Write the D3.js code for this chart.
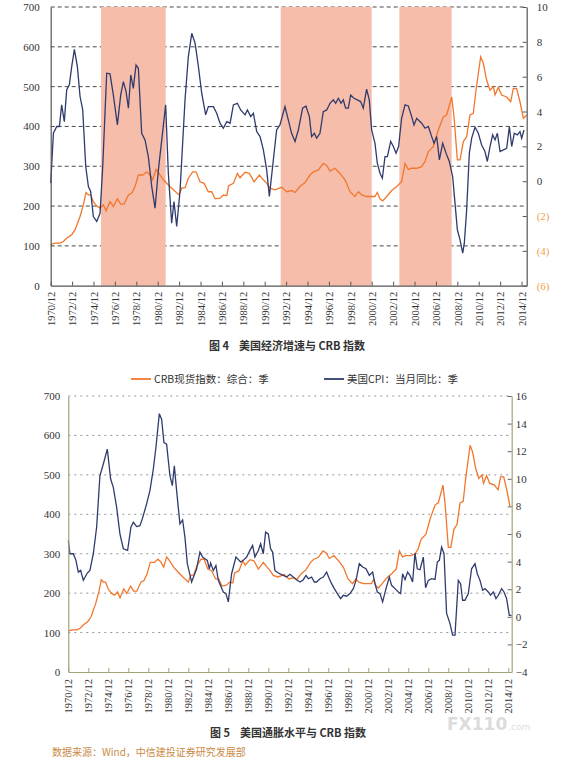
<!DOCTYPE html>
<html>
<head>
<meta charset="utf-8">
<script src="https://cdn.jsdelivr.net/npm/d3@7"></script>
<style>
  body { margin: 0; background: #fff; }
  svg { display: block; }
  .tick text { font-family: "Liberation Serif", "DejaVu Serif", serif; }
</style>
</head>
<body>
<svg id="chart" width="562" height="763"></svg>
<script>
// x tick labels, every two years
const yearTicks = ['1970/12', '1972/12', '1974/12', '1976/12', '1978/12', '1980/12', '1982/12', '1984/12',
    '1986/12', '1988/12', '1990/12', '1992/12', '1994/12', '1996/12', '1998/12', '2000/12', '2002/12',
    '2004/12', '2006/12', '2008/12', '2010/12', '2012/12', '2014/12'];

// CRB spot index (composite), time in decimal years
const crbT = [1970.92, 1971.32, 1971.79, 1972.10, 1972.41, 1972.88, 1973.19, 1973.66, 1973.97, 1974.22,
    1974.44, 1974.65, 1974.90, 1975.22, 1975.53, 1975.84, 1976.09, 1976.46, 1976.77, 1977.15, 1977.46,
    1977.77, 1978.18, 1978.49, 1978.80, 1979.11, 1979.52, 1979.89, 1980.20, 1980.45, 1980.76, 1981.07,
    1981.45, 1981.91, 1982.38, 1982.91, 1983.16, 1983.47, 1983.78, 1984.19, 1984.50, 1984.87, 1985.25,
    1985.65, 1985.96, 1986.28, 1986.74, 1987.05, 1987.37, 1987.55, 1987.99, 1988.36, 1988.61, 1989.08,
    1989.48, 1989.92, 1990.42, 1990.79, 1991.10, 1991.41, 1991.88, 1992.50, 1992.97, 1993.43, 1993.75,
    1994.21, 1994.68, 1995.15, 1995.46, 1995.93, 1996.39, 1996.71, 1997.02, 1997.48, 1997.95, 1998.42,
    1998.89, 1999.35, 1999.67, 1999.98, 2000.44, 2000.91, 2001.22, 2001.44, 2001.69, 2001.94, 2002.31,
    2002.78, 2003.25, 2003.71, 2004.03, 2004.34, 2004.65, 2005.12, 2005.58, 2005.90, 2006.21, 2006.67,
    2007.14, 2007.61, 2007.92, 2008.39, 2008.61, 2008.92, 2009.17, 2009.48, 2009.79, 2010.10, 2010.41,
    2010.66, 2011.10, 2011.35, 2011.66, 2011.97, 2012.28, 2012.44, 2012.75, 2013.06, 2013.53, 2013.90,
    2014.15, 2014.46, 2014.77, 2015.09, 2015.40];
const crbV = [104, 107, 107, 111, 119, 128, 140, 174, 203, 234,
    228, 228, 211, 200, 195, 203, 188, 211, 199, 218, 205,
    205, 228, 232, 249, 278, 278, 286, 278, 266, 292, 281,
    266, 253, 241, 228, 245, 246, 270, 286, 286, 261, 257,
    236, 236, 218, 220, 228, 226, 251, 257, 282, 271, 285,
    282, 261, 278, 266, 257, 245, 241, 247, 236, 239, 234,
    249, 259, 278, 286, 291, 307, 302, 288, 295, 282, 266,
    236, 224, 236, 228, 224, 224, 224, 234, 218, 213, 224,
    239, 249, 261, 307, 292, 295, 295, 299, 312, 337, 349,
    391, 424, 429, 474, 424, 316, 316, 362, 374, 429, 433,
    491, 575, 558, 516, 491, 500, 479, 498, 479, 474, 462,
    495, 495, 462, 420, 429];

// US real GDP growth, y/y %
const gdpT = [1970.92, 1971.17, 1971.48, 1971.73, 1971.94, 1972.19, 1972.41, 1972.66, 1972.88, 1973.13,
    1973.41, 1973.66, 1973.91, 1974.19, 1974.44, 1974.65, 1974.90, 1975.22, 1975.53, 1975.78, 1976.15,
    1976.46, 1976.77, 1977.15, 1977.46, 1977.71, 1977.96, 1978.18, 1978.40, 1978.64, 1978.89, 1979.11,
    1979.42, 1979.73, 1980.04, 1980.36, 1980.67, 1980.98, 1981.66, 1981.91, 1982.22, 1982.44, 1982.69,
    1983.00, 1983.47, 1983.78, 1984.10, 1984.41, 1984.72, 1985.03, 1985.40, 1985.65, 1986.12, 1986.43,
    1986.74, 1987.05, 1987.37, 1987.68, 1987.99, 1988.36, 1988.67, 1989.08, 1989.30, 1989.61, 1989.86,
    1990.17, 1990.48, 1990.79, 1991.10, 1991.35, 1992.03, 1992.34, 1992.81, 1993.12, 1993.43, 1993.75,
    1994.06, 1994.46, 1994.77, 1995.09, 1995.30, 1995.55, 1995.77, 1996.08, 1996.39, 1996.71, 1997.02,
    1997.33, 1997.55, 1997.80, 1998.05, 1998.26, 1998.48, 1998.73, 1998.95, 1999.26, 1999.57, 1999.88,
    2000.13, 2000.44, 2000.69, 2000.91, 2001.22, 2001.44, 2001.69, 2001.91, 2002.16, 2002.38, 2002.69,
    2002.94, 2003.19, 2003.43, 2003.71, 2004.03, 2004.34, 2004.65, 2004.87, 2005.12, 2005.58, 2005.90,
    2006.21, 2006.52, 2006.74, 2006.99, 2007.24, 2007.55, 2007.86, 2008.17, 2008.48, 2008.70, 2008.92,
    2009.17, 2009.42, 2009.57, 2009.79, 2010.04, 2010.26, 2010.57, 2010.88, 2011.19, 2011.50, 2011.72,
    2011.97, 2012.22, 2012.44, 2012.66, 2012.91, 2013.22, 2013.53, 2013.78, 2014.00, 2014.24, 2014.52,
    2014.77, 2014.93, 2015.15];
const gdpV = [-0.11, 2.75, 3.14, 3.14, 4.38, 3.42, 5.24, 5.53, 6.58, 7.57,
    6.58, 4.86, 4.09, 0.84, -0.31, -0.59, -2.03, -2.31, -1.84, 0.84, 6.20,
    6.16, 4.95, 3.23, 4.95, 5.72, 5.14, 4.19, 6.10, 5.33, 6.67, 6.48,
    2.75, 2.37, 1.41, -0.31, -1.55, 0.65, 4.38, 0.46, -2.41, -1.17, -2.60,
    -0.59, 4.67, 7.15, 8.49, 7.92, 6.58, 5.05, 3.81, 4.28, 4.28, 3.90,
    3.33, 3.04, 3.42, 3.33, 4.38, 4.47, 4.09, 3.81, 4.09, 3.71, 3.90,
    2.85, 2.56, 1.80, 0.65, -0.88, 2.94, 3.23, 4.28, 3.52, 2.75, 2.28,
    2.94, 4.19, 4.32, 3.71, 2.56, 2.75, 2.47, 2.75, 3.99, 4.09, 4.47,
    4.67, 4.47, 4.76, 4.47, 4.67, 4.19, 4.19, 4.95, 4.76, 4.67, 4.57,
    4.19, 5.28, 4.67, 2.94, 2.18, 1.03, 0.46, 0.17, 1.41, 1.41, 2.28,
    1.99, 1.61, 1.99, 3.61, 4.38, 4.32, 3.71, 3.23, 3.61, 3.33, 3.04,
    3.14, 2.56, 2.18, 2.56, 1.22, 2.18, 1.61, 1.13, 0.27, -1.26, -2.79,
    -3.37, -4.13, -3.56, -1.64, 1.61, 2.47, 3.10, 2.75, 2.08, 1.70, 1.13,
    1.99, 2.66, 2.37, 2.75, 1.70, 1.80, 1.89, 3.14, 1.99, 2.75, 2.66,
    2.85, 2.47, 2.94];

// US CPI, y/y %
const cpiT = [1970.92, 1971.08, 1971.42, 1971.68, 1971.92, 1972.15, 1972.42, 1972.82, 1973.08, 1973.42,
    1973.75, 1974.08, 1974.42, 1974.82, 1975.15, 1975.42, 1975.75, 1976.08, 1976.42, 1976.85, 1977.18,
    1977.42, 1977.75, 1978.08, 1978.35, 1978.75, 1979.08, 1979.42, 1979.68, 1980.02, 1980.25, 1980.48,
    1980.75, 1981.08, 1981.32, 1981.52, 1981.75, 1982.08, 1982.35, 1982.58, 1982.82, 1983.25, 1983.75,
    1984.08, 1984.35, 1984.58, 1984.82, 1985.02, 1985.15, 1985.42, 1985.68, 1985.92, 1986.42, 1986.68,
    1986.92, 1987.25, 1987.68, 1988.15, 1988.42, 1988.75, 1989.08, 1989.35, 1989.58, 1989.92, 1990.15,
    1990.42, 1990.65, 1990.92, 1991.15, 1991.35, 1991.58, 1991.92, 1992.42, 1992.75, 1993.09, 1993.42,
    1993.75, 1994.09, 1994.42, 1994.69, 1994.92, 1995.25, 1995.52, 1995.75, 1996.09, 1996.42, 1996.75,
    1997.02, 1997.25, 1997.52, 1997.82, 1998.15, 1998.42, 1998.75, 1999.09, 1999.42, 1999.69, 2000.02,
    2000.35, 2000.69, 2001.02, 2001.35, 2001.59, 2001.82, 2002.09, 2002.35, 2002.69, 2003.02, 2003.25,
    2003.59, 2003.92, 2004.15, 2004.35, 2004.59, 2004.85, 2005.09, 2005.35, 2005.59, 2005.82, 2006.09,
    2006.42, 2006.65, 2006.92, 2007.25, 2007.59, 2007.82, 2008.02, 2008.25, 2008.49, 2008.75, 2009.09,
    2009.35, 2009.59, 2009.92, 2010.15, 2010.35, 2010.59, 2010.92, 2011.25, 2011.59, 2011.82, 2012.09,
    2012.35, 2012.59, 2012.92, 2013.15, 2013.42, 2013.69, 2013.92, 2014.25, 2014.49, 2014.75, 2015.02,
    2015.25];
const cpiV = [5.53, 4.57, 4.57, 4.09, 3.24, 3.36, 2.64, 3.17, 3.36, 4.57,
    6.49, 10.22, 11.07, 12.15, 9.98, 9.38, 7.94, 6.01, 4.93, 4.81, 6.49,
    6.85, 6.54, 6.60, 7.17, 8.18, 9.14, 10.71, 12.27, 14.72, 14.32, 12.63,
    12.51, 10.22, 9.50, 10.94, 9.14, 6.73, 7.02, 5.77, 3.85, 2.52, 3.48,
    4.69, 4.33, 4.21, 4.09, 3.48, 3.89, 3.36, 3.72, 2.64, 1.80, 1.68,
    1.08, 3.12, 4.33, 3.97, 4.09, 4.33, 4.81, 5.17, 4.33, 4.81, 5.29,
    4.57, 6.13, 6.01, 4.93, 4.69, 3.36, 3.17, 3.00, 2.88, 3.08, 2.88,
    2.69, 2.52, 2.69, 3.00, 2.76, 2.88, 2.52, 2.52, 2.76, 2.88, 3.24,
    2.76, 2.40, 2.04, 1.68, 1.32, 1.56, 1.49, 1.68, 2.04, 2.64, 3.85,
    3.61, 3.48, 3.00, 3.24, 2.40, 1.80, 1.68, 1.08, 2.04, 2.88, 2.28,
    2.04, 1.80, 1.68, 3.12, 2.69, 3.24, 3.00, 2.52, 4.62, 3.48, 3.41,
    4.33, 2.11, 2.64, 2.76, 2.71, 3.97, 4.09, 5.05, 4.57, 0.24, -0.49,
    -1.33, -1.33, 2.64, 2.40, 1.20, 1.20, 1.68, 3.48, 3.85, 3.12, 2.64,
    1.92, 2.04, 1.80, 1.56, 1.80, 1.32, 1.56, 2.04, 1.80, 1.32, 0.11,
    0.11];

// shaded periods in figure 4
const bandStart = [1975.62, 1992.41, 2003.50];
const bandEnd = [1981.66, 2000.92, 2008.39];

const leftTicks = [0, 100, 200, 300, 400, 500, 600, 700];
const gdpTicks = [-6, -4, -2, 0, 2, 4, 6, 8, 10];
const cpiTicks = [-4, -2, 0, 2, 4, 6, 8, 10, 12, 14, 16];

const legendNames = ['CRB现货指数：综合：季', '美国CPI：当月同比：季'];
const title4 = '图 4    美国经济增速与 CRB 指数';
const title5 = '图 5    美国通胀水平与 CRB 指数';
const sourceText = '数据来源：Wind，中信建投证券研究发展部';

const colors = {
    crb: '#f2772c',
    navy: '#2f3b6d',
    band: '#f7bdab',
    orangeLabel: '#f0a04e',
    axis2: '#a4a27a'
};

const serif = '"Liberation Serif", "DejaVu Serif", serif';
const cjk = '"Noto Sans CJK SC", sans-serif';

function tickYear(s) {
    const p = s.split('/');
    return +p[0] + (+p[1] - 1) / 12;
}

const svg = d3.select('#chart');

function series(t, v) {
    return t.map((d, i) => ({t: d, v: v[i]}));
}

function drawXAxis(g, x, y0, color, labelGap) {
    const ax = g.append('g')
        .attr('transform', `translate(0, ${y0})`)
        .call(d3.axisBottom(x)
            .tickValues(yearTicks.map(tickYear))
            .tickFormat((d, i) => yearTicks[i])
            .tickSize(-4)
            .tickSizeOuter(0));
    ax.attr('font-family', serif);
    ax.select('.domain').attr('stroke', color).attr('stroke-width', 1.2);
    ax.selectAll('.tick line').attr('stroke', color);
    ax.selectAll('text')
        .attr('transform', 'rotate(-90)')
        .attr('text-anchor', 'end')
        .attr('x', -labelGap)
        .attr('y', 0)
        .attr('dy', '0.35em')
        .attr('fill', '#333')
        .style('font-size', '10.5px');
}

// ---------- figure 4 ----------
(function drawFig4() {
    const x = d3.scaleLinear().domain([1970.917, 2015.4]).range([50.7, 526.7]);
    const yL = d3.scaleLinear().domain([0, 700]).range([285.7, 7]);
    const yR = d3.scaleLinear().domain([-6, 10]).range([285.7, 7]);
    const g = svg.append('g');

    // grid
    g.selectAll('.grid4')
        .data(leftTicks.filter(d => d > 0))
        .enter()
        .append('line')
        .attr('x1', x.range()[0])
        .attr('x2', x.range()[1])
        .attr('y1', d => yL(d))
        .attr('y2', d => yL(d))
        .attr('stroke', '#333')
        .attr('stroke-width', 0.9)
        .attr('stroke-dasharray', '4,3');

    // shaded periods
    g.selectAll('.band')
        .data(bandStart)
        .enter()
        .append('rect')
        .attr('x', d => x(d))
        .attr('width', (d, i) => x(bandEnd[i]) - x(d))
        .attr('y', yL(700))
        .attr('height', yL(0) - yL(700))
        .attr('fill', colors.band);

    const lineL = d3.line().x(d => x(d.t)).y(d => yL(d.v));
    const lineR = d3.line().x(d => x(d.t)).y(d => yR(d.v));

    g.append('path')
        .datum(series(crbT, crbV))
        .attr('d', lineL)
        .attr('fill', 'none')
        .attr('stroke', colors.crb)
        .attr('stroke-width', 1.3);

    g.append('path')
        .datum(series(gdpT, gdpV))
        .attr('d', lineR)
        .attr('fill', 'none')
        .attr('stroke', colors.navy)
        .attr('stroke-width', 1.3);

    // left axis
    const la = g.append('g')
        .attr('transform', `translate(${x.range()[0]}, 0)`)
        .call(d3.axisLeft(yL).tickValues(leftTicks).tickSize(0).tickPadding(11));
    la.attr('font-family', serif);
    la.select('.domain').attr('stroke', '#555').attr('stroke-width', 1.2);
    la.selectAll('text').attr('fill', '#333').style('font-size', '11px');

    // right axis
    const ra = g.append('g')
        .attr('transform', `translate(${x.range()[1]}, 0)`)
        .call(d3.axisRight(yR).tickValues(gdpTicks).tickSize(-4).tickPadding(10)
            .tickSizeOuter(0)
            .tickFormat(d => d < 0 ? `(${-d})` : d));
    ra.attr('font-family', serif);
    ra.select('.domain').attr('stroke', '#555').attr('stroke-width', 1.2);
    ra.selectAll('.tick line').attr('stroke', '#555');
    ra.selectAll('text')
        .attr('fill', d => d < 0 ? colors.orangeLabel : '#333')
        .style('font-size', '11px');

    drawXAxis(g, x, 285.7, '#555', 6);

    svg.append('text')
        .attr('x', 287).attr('y', 350)
        .attr('text-anchor', 'middle')
        .attr('fill', '#333')
        .style('white-space', 'pre')
        .style('font-family', cjk).style('font-size', '11px').style('font-weight', 'bold')
        .text(title4);
})();

// ---------- figure 5 ----------
(function drawFig5() {
    const x = d3.scaleLinear().domain([1970.917, 2015.26]).range([68.3, 511.7]);
    const yL = d3.scaleLinear().domain([0, 700]).range([672, 396]);
    const yR = d3.scaleLinear().domain([-4, 16]).range([672, 396]);
    const g = svg.append('g');

    g.selectAll('.grid5')
        .data(leftTicks.filter(d => d > 0))
        .enter()
        .append('line')
        .attr('x1', x.range()[0])
        .attr('x2', x.range()[1])
        .attr('y1', d => yL(d))
        .attr('y2', d => yL(d))
        .attr('stroke', '#888')
        .attr('stroke-width', 0.9)
        .attr('stroke-dasharray', '2,4');

    const lineL = d3.line().x(d => x(d.t)).y(d => yL(d.v));
    const lineR = d3.line().x(d => x(d.t)).y(d => yR(d.v));

    g.append('path')
        .datum(series(crbT, crbV).filter(d => d.t <= 2015.26))
        .attr('d', lineL)
        .attr('fill', 'none')
        .attr('stroke', colors.crb)
        .attr('stroke-width', 1.3);

    g.append('path')
        .datum(series(cpiT, cpiV))
        .attr('d', lineR)
        .attr('fill', 'none')
        .attr('stroke', colors.navy)
        .attr('stroke-width', 1.3);

    const la = g.append('g')
        .attr('transform', `translate(${x.range()[0]}, 0)`)
        .call(d3.axisLeft(yL).tickValues(leftTicks).tickSize(0).tickPadding(8));
    la.attr('font-family', serif);
    la.select('.domain').attr('stroke', colors.axis2).attr('stroke-width', 1.2);
    la.selectAll('text').attr('fill', '#333').style('font-size', '11px');

    const ra = g.append('g')
        .attr('transform', `translate(${x.range()[1]}, 0)`)
        .call(d3.axisRight(yR).tickValues(cpiTicks).tickSize(-4).tickPadding(4).tickSizeOuter(0));
    ra.attr('font-family', serif);
    ra.select('.domain').attr('stroke', colors.axis2).attr('stroke-width', 1.2);
    ra.selectAll('.tick line').attr('stroke', '#666');
    ra.selectAll('text').attr('fill', '#333').style('font-size', '11px');

    drawXAxis(g, x, 672, colors.axis2, 7);

    // legend
    const legendX = [131, 324];
    const legendColors = [colors.crb, colors.navy];
    legendNames.forEach(function (name, i) {
        svg.append('line')
            .attr('x1', legendX[i]).attr('x2', legendX[i] + 20)
            .attr('y1', 379).attr('y2', 379)
            .attr('stroke', legendColors[i])
            .attr('stroke-width', 1.8);
        svg.append('text')
            .attr('x', legendX[i] + 23).attr('y', 383)
            .attr('fill', '#333')
            .style('font-family', cjk).style('font-size', '10.5px')
            .text(name);
    });

    svg.append('text')
        .attr('x', 288).attr('y', 737)
        .attr('text-anchor', 'middle')
        .attr('fill', '#333')
        .style('white-space', 'pre')
        .style('font-family', cjk).style('font-size', '11px').style('font-weight', 'bold')
        .text(title5);

    // watermark
    const wm = svg.append('text')
        .attr('x', 447).attr('y', 730)
        .attr('fill', '#dcdcdc')
        .style('font-family', '"DejaVu Sans", sans-serif').style('font-size', '17px').style('font-weight', 'bold')
        .text('FX110');
    const wmEnd = 447 + wm.node().getComputedTextLength();
    svg.append('text')
        .attr('x', wmEnd + 1).attr('y', 730)
        .attr('fill', '#dcdcdc')
        .style('font-family', '"DejaVu Sans", sans-serif').style('font-size', '9px')
        .text('.com');

    svg.append('text')
        .attr('x', 52).attr('y', 756)
        .attr('fill', '#c98a45')
        .style('font-family', cjk).style('font-size', '10px')
        .text(sourceText);
})();
</script>
</body>
</html>
